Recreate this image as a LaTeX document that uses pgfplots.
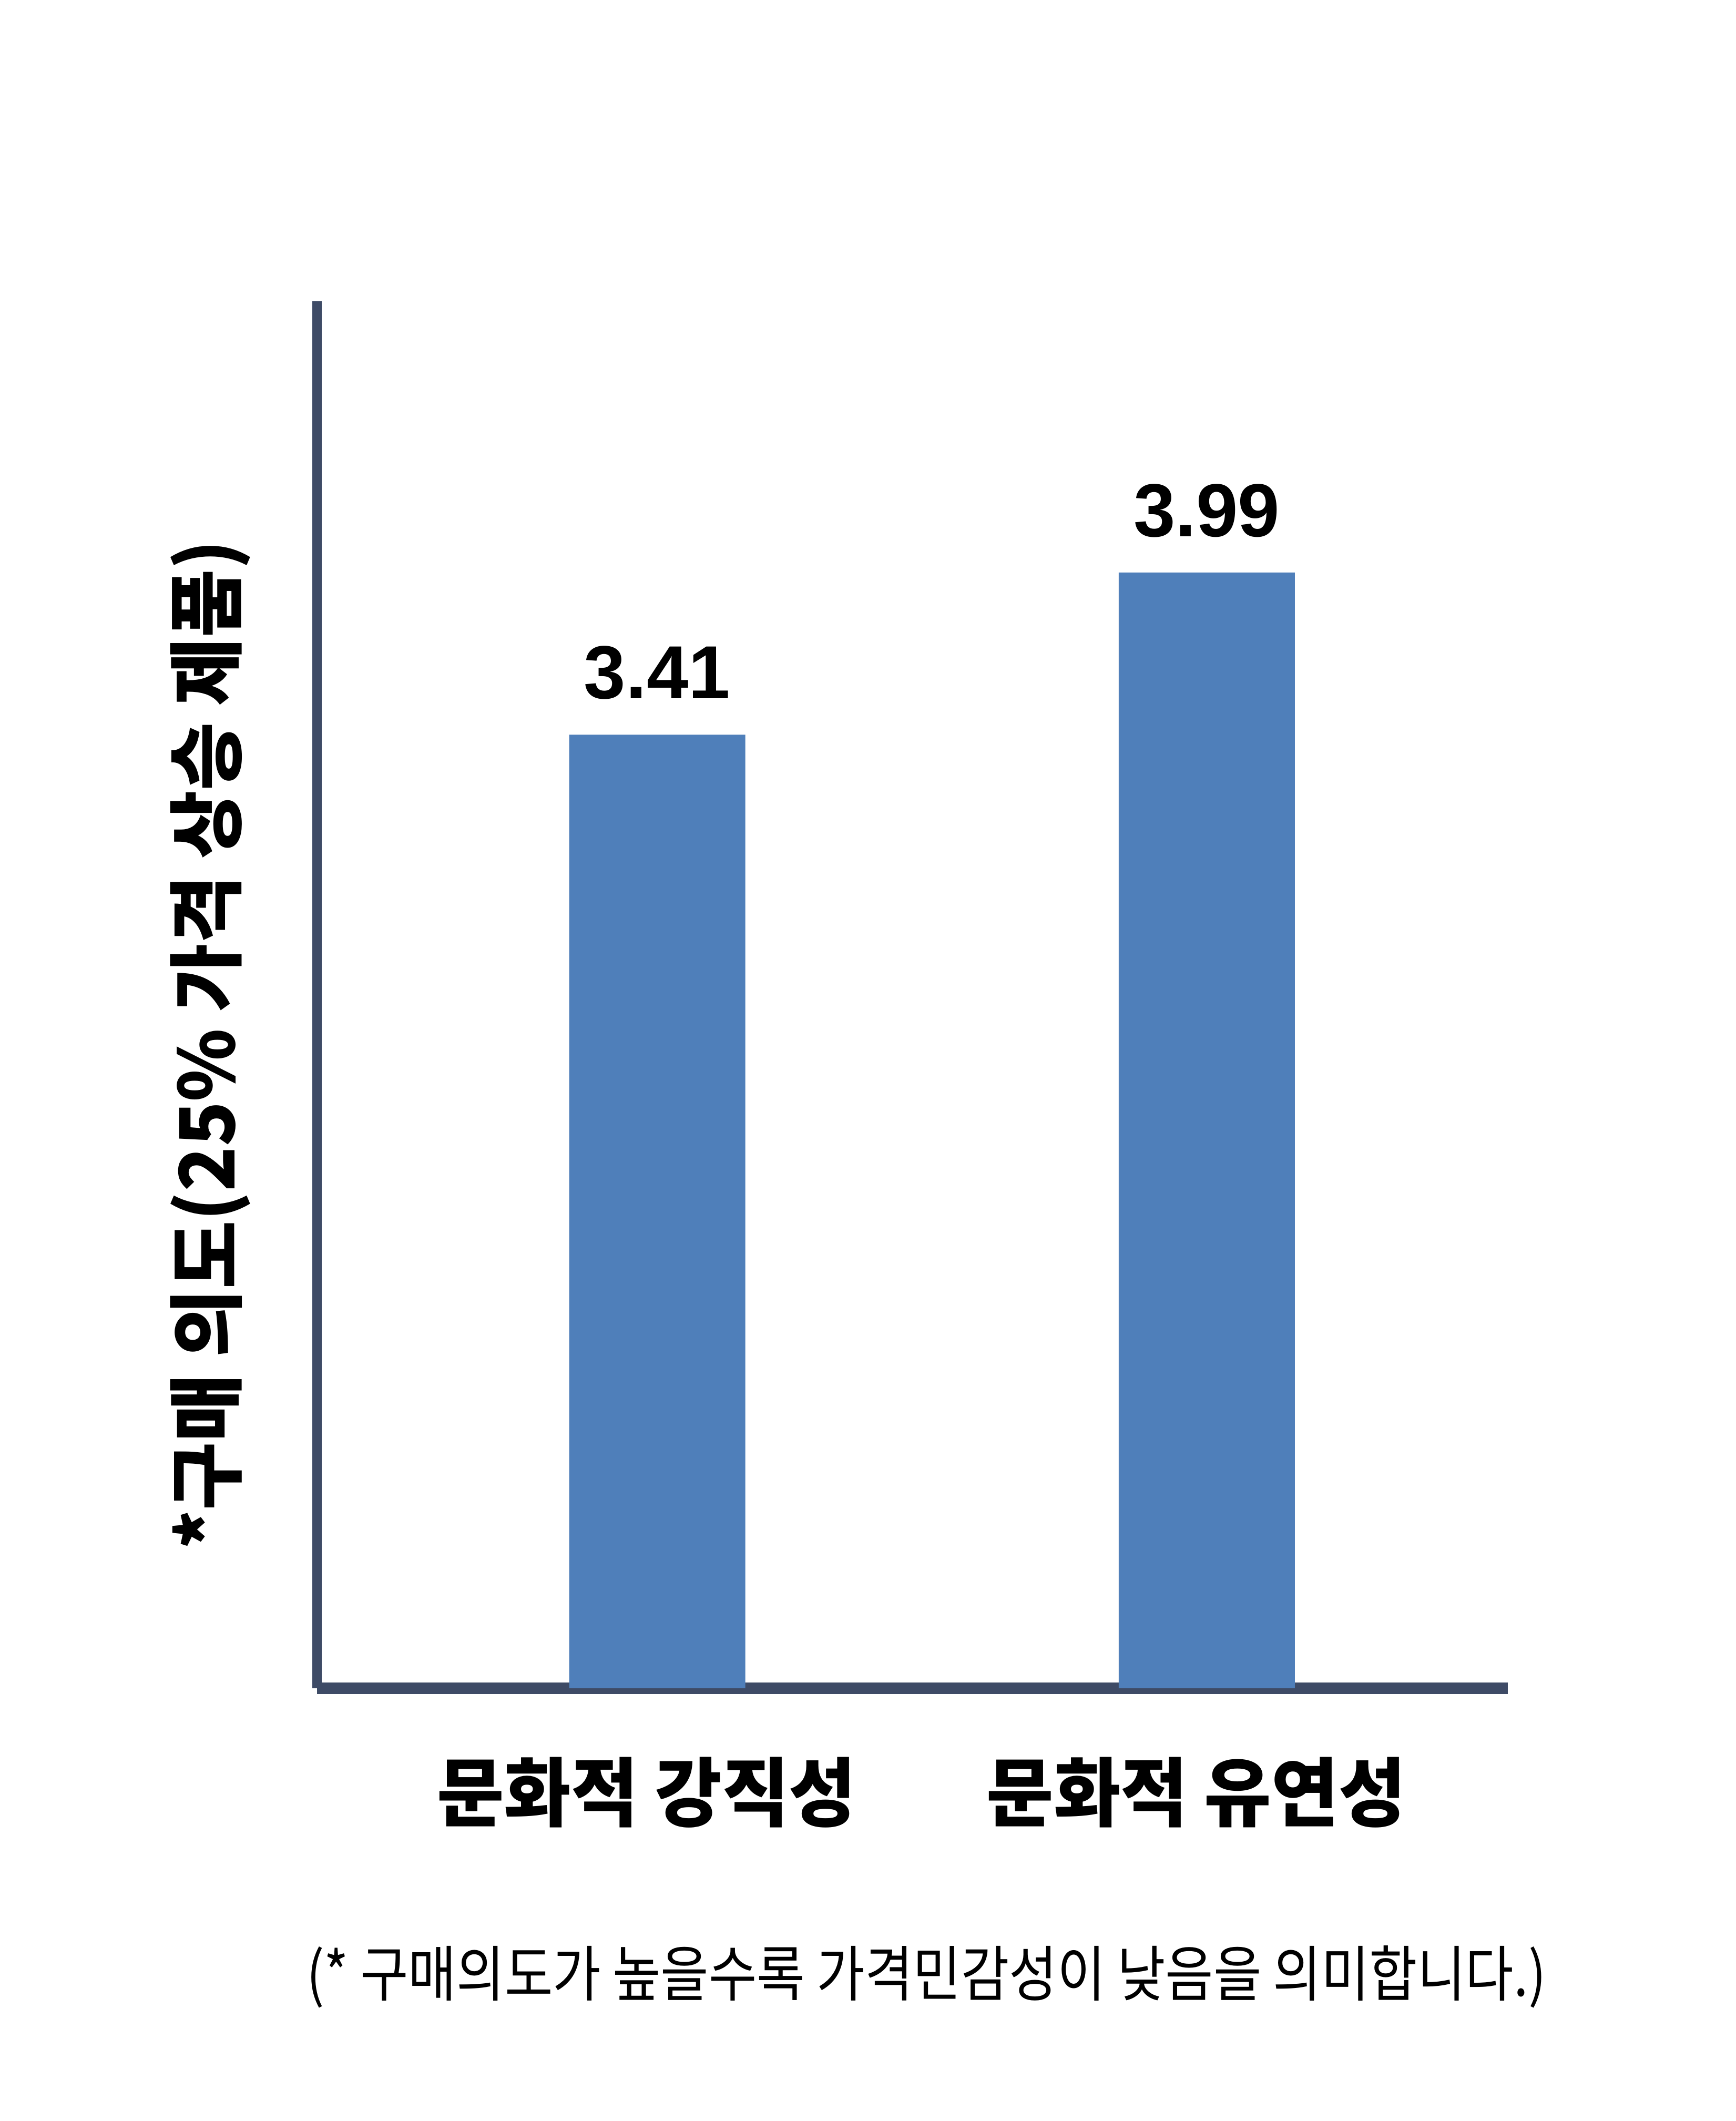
\documentclass[border=0pt]{standalone}
\usepackage{fontspec}
\usepackage{pgfplots}
\pgfplotsset{compat=1.18}
\newfontfamily\krnarrow[FakeStretch=0.865]{Noto Sans CJK KR}
\newfontfamily\krwide[FakeStretch=0.97]{Noto Sans CJK KR}
\newfontfamily\arial{Liberation Sans}

\definecolor{barblue}{HTML}{4F7FBA}
\definecolor{axisnavy}{HTML}{3E4B66}

\begin{document}
\begin{tikzpicture}
  \begin{axis}[
    name=ax,
    scale only axis,
    width=226.5pt, height=263.8pt,
    xmin=0.381, xmax=2.548,
    ymin=0, ymax=4.96,
    clip=false,
    axis lines=left,
    axis line style={-, draw=axisnavy},
    x axis line style={line width=2.2pt},
    y axis line style={line width=1.8pt},
    ytick=\empty,
    xtick={1,2},
    xticklabels={문화적 강직성, 문화적 유연성},
    major tick length=0pt,
    xticklabel style={font=\krwide\bfseries\fontsize{14.3}{16}\selectfont,
      anchor=center, yshift=-19.8pt, xshift=-2pt},
    ylabel={*구매 의도(25\% 가격 상승 제품)},
    ylabel style={font=\krwide\bfseries\fontsize{14.5}{16}\selectfont,
      at={(axis description cs:-0.0896,0.464)}, anchor=center},
    ybar, bar width=33.5pt,
    point meta=explicit symbolic,
    nodes near coords,
    every node near coord/.append style={font=\arial\bfseries\fontsize{14.3}{16}\selectfont,
      anchor=south, inner sep=0pt, yshift=6.5pt},
  ]
    \addplot[fill=barblue, draw=none] coordinates {(1,3.41) [3.41] (2,3.99) [3.99]};
    \node[font=\krnarrow\fontsize{11.5}{13}\selectfont, anchor=center]
      at (axis description cs:0.5117,-0.208) {(* 구매의도가 높을수록 가격민감성이 낮음을 의미합니다.)};
  \end{axis}
  \path[use as bounding box] ([shift={(-60.3pt,-82.3pt)}]ax.south west) rectangle ++(330.1pt,403.4pt);
\end{tikzpicture}
\end{document}
